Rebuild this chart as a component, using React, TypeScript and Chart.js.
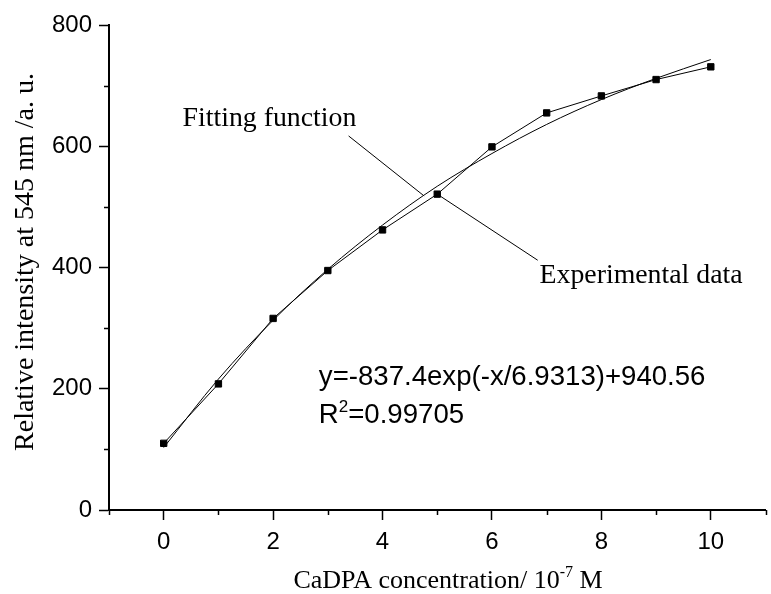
import React, { useEffect, useRef } from 'react';
import { Chart, registerables } from 'chart.js';
Chart.register(...registerables);

// ---- data ----
const concentrations = [0, 1, 2, 3, 4, 5, 6, 7, 8, 9, 10];
const experimental = [110, 208, 316, 395, 462, 521, 599, 655, 683, 710, 731];
const fitX = [0, 1, 2, 3, 4, 5, 6, 7, 8, 9, 10];
const fitY = [103, 216, 313, 397, 470, 534, 588, 636, 677, 712, 743];

const xMajorTicks = [0, 2, 4, 6, 8, 10];
const xMinorTicks = [-1, 1, 3, 5, 7, 9, 11];
const yMajorTicks = [0, 200, 400, 600, 800];
const yMinorTicks = [100, 300, 500, 700];

const xTitleMain = 'CaDPA concentration/ 10';
const xTitleSup = '-7';
const xTitleEnd = ' M';
const yTitle = 'Relative intensity at 545 nm /a. u.';

const fitLabel = { text: 'Fitting function', x: 0.345, y: 633 };
const fitLeader = [[3.38, 617], [4.76, 518]];
const expLabel = { text: 'Experimental data', x: 6.87, y: 374 };
const expLeader = [[5, 521], [6.836, 412]];
const equationText = 'y=-837.4exp(-x/6.9313)+940.56';
const equationPos = { x: 2.836, y: 206 };
const r2Value = '=0.99705';
const r2Pos = { x: 2.836, y: 143.5 };

const SANS = '"Liberation Sans", Arial, sans-serif';
const SERIF = '"Liberation Serif", "Times New Roman", serif';

const overlayPlugin = {
  id: 'overlay',
  afterDraw(chart: any) {
    const ctx = chart.ctx as CanvasRenderingContext2D;
    const xs = chart.scales.x;
    const ys = chart.scales.y;
    const area = chart.chartArea;
    ctx.save();
    ctx.strokeStyle = '#000';
    ctx.fillStyle = '#000';
    // minor ticks
    ctx.lineWidth = 1.5;
    ctx.beginPath();
    xMinorTicks.forEach((v) => {
      const px = Math.round(xs.getPixelForValue(v)) + 0.5;
      ctx.moveTo(px, area.bottom);
      ctx.lineTo(px, area.bottom + 5);
    });
    yMinorTicks.forEach((v) => {
      const py = Math.round(ys.getPixelForValue(v)) + 0.5;
      ctx.moveTo(area.left, py);
      ctx.lineTo(area.left - 5, py);
    });
    ctx.stroke();

    // leader lines
    ctx.lineWidth = 1;
    [fitLeader, expLeader].forEach((seg) => {
      ctx.beginPath();
      ctx.moveTo(xs.getPixelForValue(seg[0][0]), ys.getPixelForValue(seg[0][1]));
      ctx.lineTo(xs.getPixelForValue(seg[1][0]), ys.getPixelForValue(seg[1][1]));
      ctx.stroke();
    });

    // serif labels
    ctx.textBaseline = 'alphabetic';
    ctx.textAlign = 'left';
    ctx.font = `27.8px ${SERIF}`;
    ctx.fillText(fitLabel.text, xs.getPixelForValue(fitLabel.x), ys.getPixelForValue(fitLabel.y));
    ctx.fillText(expLabel.text, xs.getPixelForValue(expLabel.x), ys.getPixelForValue(expLabel.y));

    // equation
    ctx.font = `27.6px ${SANS}`;
    ctx.fillText(equationText, xs.getPixelForValue(equationPos.x), ys.getPixelForValue(equationPos.y));
    const rx = xs.getPixelForValue(r2Pos.x);
    const ry = ys.getPixelForValue(r2Pos.y);
    ctx.fillText('R', rx, ry);
    const rw = ctx.measureText('R').width;
    ctx.font = `17px ${SANS}`;
    ctx.fillText('2', rx + rw, ry - 11);
    const sw = ctx.measureText('2').width;
    ctx.font = `27.6px ${SANS}`;
    ctx.fillText(r2Value, rx + rw + sw, ry);

    // x title with superscript
    ctx.font = `26px ${SERIF}`;
    const w1 = ctx.measureText(xTitleMain).width;
    ctx.font = `16px ${SERIF}`;
    const w2 = ctx.measureText(xTitleSup).width;
    ctx.font = `26px ${SERIF}`;
    const w3 = ctx.measureText(xTitleEnd).width;
    const total = w1 + w2 + w3;
    const cx = 448;
    let tx = cx - total / 2;
    const tb = 588;
    ctx.fillText(xTitleMain, tx, tb);
    tx += w1;
    ctx.font = `16px ${SERIF}`;
    ctx.fillText(xTitleSup, tx, tb - 11);
    tx += w2;
    ctx.font = `26px ${SERIF}`;
    ctx.fillText(xTitleEnd, tx, tb);

    // y title rotated
    ctx.save();
    ctx.translate(33, 262);
    ctx.rotate(-Math.PI / 2);
    ctx.font = `28px ${SERIF}`;
    ctx.textAlign = 'center';
    ctx.fillText(yTitle, 0, 0);
    ctx.restore();

    ctx.restore();
  },
};

export default function App() {
  const ref = useRef<HTMLCanvasElement | null>(null);
  useEffect(() => {
    if (!ref.current) return;
    const chart = new Chart(ref.current, {
      type: 'scatter',
      data: {
        datasets: [
          {
            label: 'Fitting function',
            data: fitX.map((x, i) => ({ x, y: fitY[i] })),
            showLine: true,
            borderColor: '#000',
            borderWidth: 1,
            pointRadius: 0,
            cubicInterpolationMode: 'monotone',
            fill: false,
          },
          {
            label: 'Experimental data',
            data: concentrations.map((x, i) => ({ x, y: experimental[i] })),
            showLine: true,
            borderColor: '#000',
            backgroundColor: '#000',
            borderWidth: 1,
            pointStyle: 'rect',
            pointRadius: 4.5,
            pointBorderWidth: 1,
            pointBorderColor: '#000',
            pointBackgroundColor: '#000',
            tension: 0,
            fill: false,
          },
        ],
      },
      options: {
        responsive: false,
        animation: false,
        events: [],
        layout: { padding: { top: 25, right: 1, left: 0, bottom: 0 } },
        plugins: { legend: { display: false }, tooltip: { enabled: false }, title: { display: false } },
        scales: {
          x: {
            type: 'linear',
            min: -1,
            max: 11,
            afterBuildTicks: (s: any) => {
              s.ticks = xMajorTicks.map((v) => ({ value: v }));
            },
            afterFit: (s: any) => {
              s.height = 84;
            },
            grid: { drawOnChartArea: false, drawTicks: true, tickLength: 10, tickColor: '#000', tickWidth: 1.5 },
            border: { display: true, color: '#000', width: 2 },
            ticks: { color: '#000', font: { family: SANS, size: 24 }, padding: 8, maxRotation: 0, autoSkip: false },
          },
          y: {
            type: 'linear',
            min: 0,
            max: 800,
            afterBuildTicks: (s: any) => {
              s.ticks = yMajorTicks.map((v) => ({ value: v }));
            },
            afterFit: (s: any) => {
              s.width = 109;
            },
            grid: { drawOnChartArea: false, drawTicks: true, tickLength: 10, tickColor: '#000', tickWidth: 1.5 },
            border: { display: true, color: '#000', width: 2 },
            ticks: { color: '#000', font: { family: SANS, size: 24 }, padding: 7, autoSkip: false },
          },
        },
      },
      plugins: [overlayPlugin],
    } as any);
    return () => chart.destroy();
  }, []);
  return (
    <div style={{ position: 'absolute', left: 0, top: 0, width: 771, height: 594, background: '#fff' }}>
      <canvas ref={ref} width={771} height={594} style={{ display: 'block', width: 771, height: 594 }} />
    </div>
  );
}
